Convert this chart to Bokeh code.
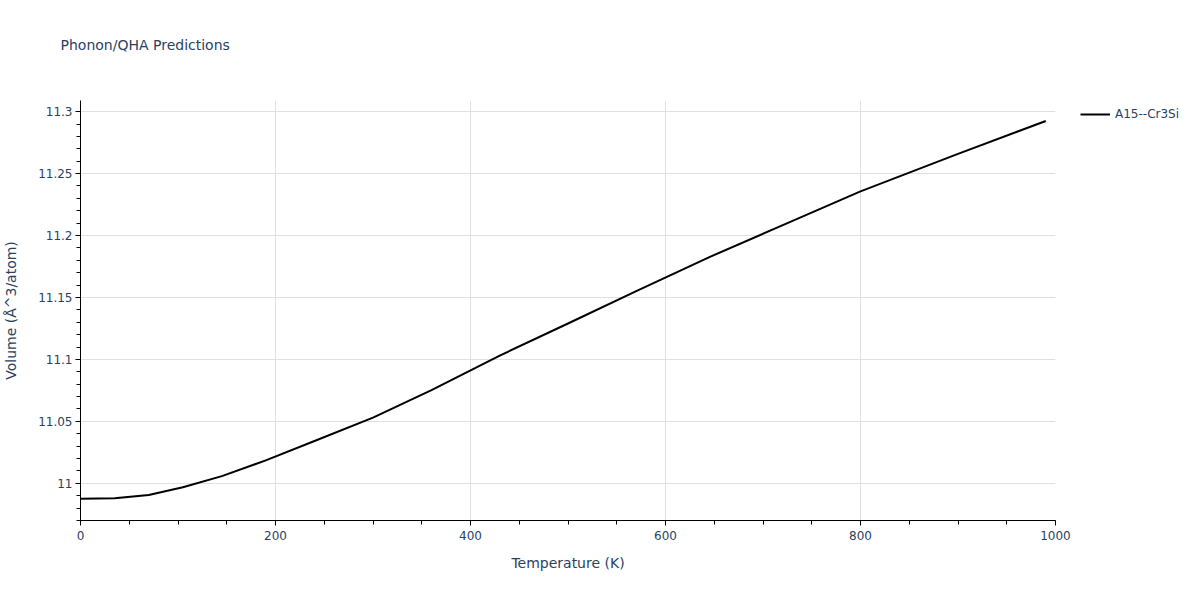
from bokeh.plotting import figure
from bokeh.models import Range1d, SingleIntervalTicker, CustomJSTickFormatter, Legend, LegendItem, Title
from bokeh.embed import file_html
from bokeh.resources import INLINE

temperature = [0, 35, 70, 105, 145, 190, 240, 300, 360, 430, 500, 570, 645, 715, 800, 900, 990]
volume = [10.9876, 10.9880, 10.9906, 10.9968, 11.0058, 11.0185, 11.0342, 11.0530, 11.0752,
          11.1031, 11.1290, 11.1551, 11.1826, 11.2066, 11.2357, 11.2659, 11.2925]
series_name = "A15--Cr3Si"
title_text = "Phonon/QHA Predictions"
x_label = "Temperature (K)"
y_label = "Volume (Å^3/atom)"

FONT = "DejaVu Sans"
TXT = "#2a3f5f"

p = figure(frame_width=975, frame_height=420, output_backend="svg", toolbar_location=None,
           x_range=Range1d(0, 1000), y_range=Range1d(10.970, 11.309),
           min_border_left=74, min_border_right=129, min_border_top=100, min_border_bottom=64,
           title=title_text)
p.title.text_font = FONT
p.title.text_font_size = "14px"
p.title.text_font_style = "normal"
p.title.text_color = TXT
p.title.offset = -20
p.title.standoff = 10

# spacer placed between the frame and the title
spacer = Title(text=" ", standoff=25, text_font=FONT, text_font_size="14px")
p.add_layout(spacer, "above")

r = p.line(temperature, volume, line_color="black", line_width=2)

p.outline_line_color = None
for ax in (p.xaxis[0], p.yaxis[0]):
    ax.axis_line_color = "black"
    ax.axis_line_width = 1
    ax.major_tick_line_color = "black"
    ax.minor_tick_line_color = "black"
    ax.major_tick_in = 0
    ax.major_tick_out = 5
    ax.minor_tick_in = 0
    ax.minor_tick_out = 4
    ax.major_label_text_font = FONT
    ax.major_label_text_font_size = "12px"
    ax.major_label_text_color = TXT
    ax.axis_label_text_font = FONT
    ax.axis_label_text_font_size = "14px"
    ax.axis_label_text_font_style = "normal"
    ax.axis_label_text_color = TXT
    ax.formatter = CustomJSTickFormatter(code="return String(parseFloat(tick.toFixed(4)));")

p.xaxis[0].ticker = SingleIntervalTicker(interval=200, num_minor_ticks=4)
p.yaxis[0].ticker = SingleIntervalTicker(interval=0.05, num_minor_ticks=5)
p.xaxis[0].axis_label = x_label
p.yaxis[0].axis_label = y_label
p.xaxis[0].major_label_standoff = 5
p.xaxis[0].axis_label_standoff = 12
p.yaxis[0].major_label_standoff = 3
p.yaxis[0].axis_label_standoff = 16

p.xgrid.grid_line_color = "#e0e0e0"
p.ygrid.grid_line_color = "#e0e0e0"
p.xgrid.ticker = p.xaxis[0].ticker
p.ygrid.ticker = p.yaxis[0].ticker

legend = Legend(items=[LegendItem(label=series_name, renderers=[r])], location=(25, 399),
                border_line_color=None, background_fill_alpha=0,
                label_text_font=FONT, label_text_font_size="12px", label_text_color=TXT,
                glyph_width=30, margin=0, padding=0, spacing=0, label_standoff=5,
                glyph_height=14, label_height=14)
p.add_layout(legend, "right")

open("out.html", "w").write(file_html(p, INLINE))
